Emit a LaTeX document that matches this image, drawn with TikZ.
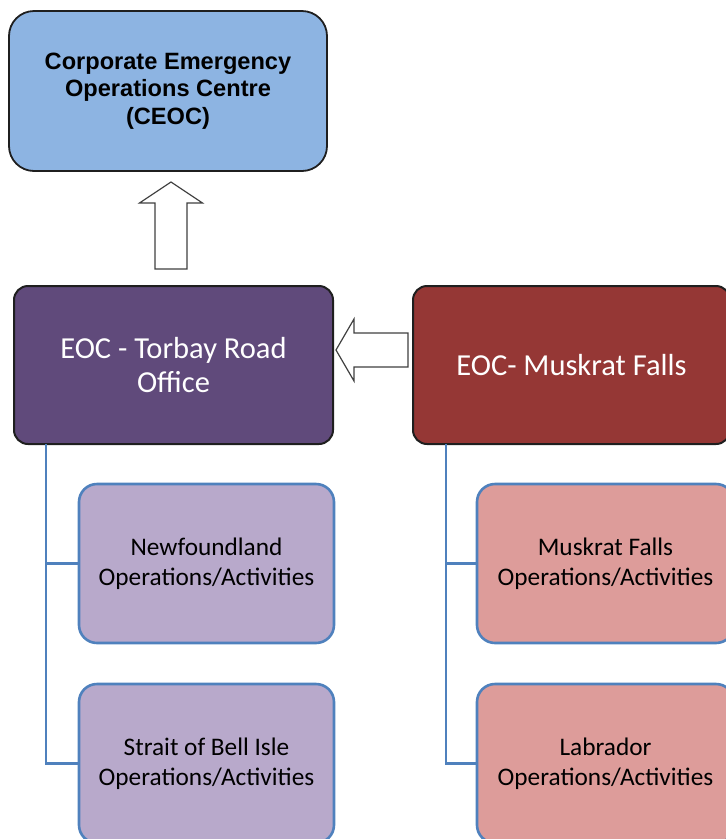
\documentclass[tikz,border=0pt]{standalone}
\usepackage{fontspec}
\setmainfont{Carlito}
\newfontfamily\arialfont{Liberation Sans}
\usetikzlibrary{calc}

\definecolor{ceocfill}{HTML}{8DB4E2}
\definecolor{torfill}{HTML}{604A7B}
\definecolor{muskfill}{HTML}{953735}
\definecolor{lavfill}{HTML}{B8A9CB}
\definecolor{pinkfill}{HTML}{DD9C9A}
\definecolor{boxblue}{HTML}{4F81BD}
\definecolor{edgedark}{HTML}{1F1F1F}
\definecolor{arrowgray}{HTML}{404040}

\tikzset{
  mainbox/.style={draw=edgedark, line width=2pt, inner sep=0pt, outer sep=0pt,
    minimum height=158pt, align=center, text=white,
    font=\fontsize{30.5}{34}\selectfont, rounded corners=14pt},
  topbox/.style={draw=edgedark, line width=1.8pt, fill=ceocfill, inner sep=0pt,
    outer sep=0pt, minimum width=318pt, minimum height=160pt, align=center,
    font=\arialfont\bfseries\fontsize{23.6}{27.5}\selectfont, rounded corners=25pt},
  subbox/.style={draw=boxblue, line width=2.6pt, inner sep=0pt, outer sep=0pt,
    minimum height=159pt, align=center,
    font=\fontsize{25.3}{30}\selectfont, rounded corners=18pt},
  trunk/.style={draw=boxblue, line width=2.4pt},
  blockarrow/.style={draw=arrowgray, line width=1.2pt, fill=white, line join=miter},
}

\begin{document}
\begin{tikzpicture}[x=1pt,y=-1pt]
\useasboundingbox (0,0) rectangle (726,839);
\clip (0,0) rectangle (726,839);

% top level
\node[topbox] (ceoc) at (168,91) {Corporate Emergency\\Operations Centre\\(CEOC)};

% regional operations centres
\node[mainbox, fill=torfill, minimum width=319pt] (tor) at (173.5,365) {EOC - Torbay Road\\Office};
\node[mainbox, fill=muskfill, minimum width=317pt] (musk) at (571.5,365) {EOC- Muskrat Falls};

% field activities
\node[subbox, fill=lavfill, minimum width=255pt] (nf) at (206.5,563.5) {Newfoundland\\Operations/Activities};
\node[subbox, fill=lavfill, minimum width=255pt] (sb) at (206.5,763.5) {Strait of Bell Isle\\Operations/Activities};
\node[subbox, fill=pinkfill, minimum width=257pt] (mf) at (605.5,563.5) {Muskrat Falls\\Operations/Activities};
\node[subbox, fill=pinkfill, minimum width=257pt] (lab) at (605.5,763.5) {Labrador\\Operations/Activities};

% tree connectors
\coordinate (ltrunk) at ($(tor.south west)+(32,0)$);
\coordinate (rtrunk) at ($(musk.south west)+(33,0)$);
\draw[trunk] (ltrunk) |- (nf.west);
\draw[trunk] (ltrunk) |- (sb.west);
\draw[trunk] (rtrunk) |- (mf.west);
\draw[trunk] (rtrunk) |- (lab.west);

% reporting arrows
\coordinate (ua0) at ($(tor.north)+(-2.5,-17)$);
\coordinate (ua1) at ($(ceoc.south)+(3,11)$);
\draw[blockarrow] let \p1=(ua0), \p2=(ua1) in
  (\x1-16pt,\y1) -- (\x1+16pt,\y1) -- (\x1+16pt,\y2-21pt) -- (\x1+31.5pt,\y2-21pt)
  -- (\x1,\y2) -- (\x1-31.5pt,\y2-21pt) -- (\x1-16pt,\y2-21pt) -- cycle;

\coordinate (la0) at ($(musk.west)+(-5,-15)$);
\coordinate (la1) at ($(tor.east)+(3,-15)$);
\draw[blockarrow] let \p1=(la0), \p2=(la1) in
  (\x1,\y1+17pt) -- (\x2+18pt,\y1+17pt) -- (\x2+18pt,\y1+31pt) -- (\x2,\y1)
  -- (\x2+18pt,\y1-31pt) -- (\x2+18pt,\y1-17pt) -- (\x1,\y1-17pt) -- cycle;
\end{tikzpicture}
\end{document}
